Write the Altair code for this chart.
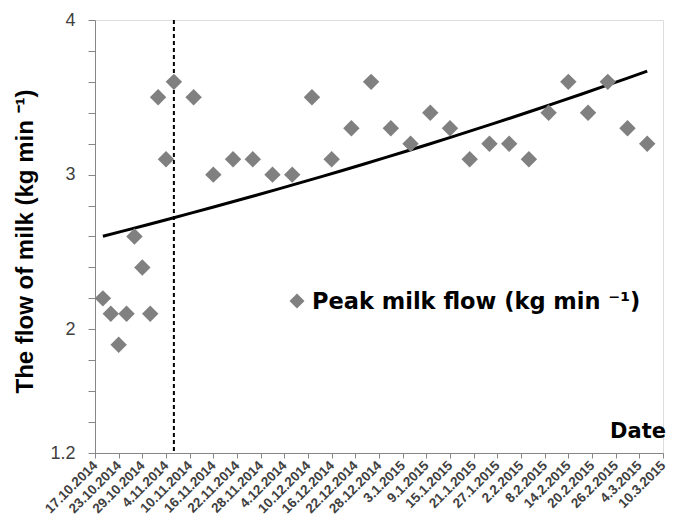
import json
import datetime as dt
import pandas as pd
import altair as alt

# ---- data ----
x_tick_labels = ["17.10.2014", "23.10.2014", "29.10.2014", "4.11.2014", "10.11.2014",
                 "16.11.2014", "22.11.2014", "28.11.2014", "4.12.2014", "10.12.2014",
                 "16.12.2014", "22.12.2014", "28.12.2014", "3.1.2015", "9.1.2015",
                 "15.1.2015", "21.1.2015", "27.1.2015", "2.2.2015", "8.2.2015",
                 "14.2.2015", "20.2.2015", "26.2.2015", "4.3.2015", "10.3.2015"]

dates = ["19.10.2014", "21.10.2014", "23.10.2014", "25.10.2014", "27.10.2014",
         "29.10.2014", "31.10.2014", "2.11.2014", "4.11.2014", "6.11.2014",
         "11.11.2014", "16.11.2014", "21.11.2014", "26.11.2014", "1.12.2014",
         "6.12.2014", "11.12.2014", "16.12.2014", "21.12.2014", "26.12.2014",
         "31.12.2014", "5.1.2015", "10.1.2015", "15.1.2015", "20.1.2015",
         "25.1.2015", "30.1.2015", "4.2.2015", "9.2.2015", "14.2.2015",
         "19.2.2015", "24.2.2015", "1.3.2015", "6.3.2015"]

peak_flow = [2.2, 2.1, 1.9, 2.1, 2.6, 2.4, 2.1, 3.5, 3.1, 3.6,
             3.5, 3.0, 3.1, 3.1, 3.0, 3.0, 3.5, 3.1, 3.3, 3.6,
             3.3, 3.2, 3.4, 3.3, 3.1, 3.2, 3.2, 3.1, 3.4, 3.6,
             3.4, 3.6, 3.3, 3.2]

y_tick_labels = [1.2, 2, 3, 4]
y_minor_step = 0.2
divider_date = "6.11.2014"
legend_text = "Peak milk flow (kg min \u207b\u00b9)"
y_title = "The flow of milk (kg min \u207b\u00b9)"
x_title = "Date"


def parse(s):
    d, m, y = map(int, s.split("."))
    return dt.date(y, m, d)


origin = parse(x_tick_labels[0])
days = [(parse(s) - origin).days for s in dates]
tick_days = [(parse(s) - origin).days for s in x_tick_labels]
divider_day = (parse(divider_date) - origin).days

df = pd.DataFrame({"day": days, "flow": peak_flow, "date": dates})

n_minor = int(round((y_tick_labels[-1] - y_tick_labels[0]) / y_minor_step))
y_ticks = [round(y_tick_labels[0] + y_minor_step * i, 1) for i in range(n_minor + 1)]

FONT = "Liberation Sans"
WIDE = "DejaVu Sans"
GRAY = "#808080"
AXIS = "#868686"

x_scale = alt.Scale(domain=[0, tick_days[-1]], nice=False, zero=False)
y_scale = alt.Scale(domain=[y_tick_labels[0], y_tick_labels[-1]], nice=False, zero=False)

x_label_expr = "%s[indexof(%s, datum.value)]" % (json.dumps(x_tick_labels), json.dumps(tick_days))
y_label_expr = "indexof(%s, datum.value) >= 0 ? format(datum.value, '~g') : ''" % json.dumps(y_tick_labels)

x_axis = alt.Axis(values=tick_days, labelExpr=x_label_expr, labelAngle=-45,
                  labelAlign="right", labelBaseline="middle",
                  labelFontSize=13.5, labelFontWeight="bold", labelColor="#404040",
                  labelPadding=5, tickSize=5, tickColor=AXIS, domainColor=AXIS,
                  grid=False, title=None, labelOverlap=False)

y_axis = alt.Axis(values=y_ticks, labelExpr=y_label_expr, labelFontSize=18,
                  labelColor="#404040", labelPadding=13, tickSize=7,
                  tickColor=AXIS, domainColor=AXIS, grid=False,
                  title=y_title, titleFontSize=24, titleFontWeight="bold",
                  titleColor="black", titleAngle=-90, titleX=-70, titleY=221,
                  titleAlign="center", titleBaseline="middle", labelOverlap=False)

X = alt.X("day:Q", scale=x_scale, axis=x_axis)
Y = alt.Y("flow:Q", scale=y_scale, axis=y_axis)

points = alt.Chart(df).mark_point(shape="diamond", filled=True, size=270,
                                  color=GRAY, opacity=1).encode(x=X, y=Y)

# exponential trendline: straight-line fit of log(flow), drawn back on the linear scale
trend = (
    alt.Chart(df)
    .transform_calculate(logflow="log(datum.flow)")
    .transform_regression("day", "logflow", method="poly", order=1)
    .transform_calculate(flow="exp(datum.logflow)")
    .mark_line(color="black", strokeWidth=3)
    .encode(x=X, y=Y)
)

divider = alt.Chart(pd.DataFrame({"day": [divider_day]})).mark_rule(
    color="black", strokeWidth=2, strokeDash=[4, 3]).encode(x=X)

legend_mark = alt.Chart(pd.DataFrame({"t": [legend_text]})).mark_point(
    shape="diamond", filled=True, size=225, color=GRAY, opacity=1).encode(
    x=alt.value(202), y=alt.value(281))

legend_label = alt.Chart(pd.DataFrame({"t": [legend_text]})).mark_text(
    align="left", baseline="middle", fontSize=22.5, fontWeight="bold",
    color="black", font=WIDE).encode(
    x=alt.value(217), y=alt.value(282), text="t:N")

date_label = alt.Chart(pd.DataFrame({"t": [x_title]})).mark_text(
    align="right", baseline="middle", fontSize=21, fontWeight="bold",
    color="black", font=WIDE).encode(
    x=alt.value(571), y=alt.value(412), text="t:N")

chart = alt.layer(divider, trend, points, legend_mark, legend_label, date_label).properties(
    width=568, height=433,
    autosize=alt.AutoSizeParams(type="none"),
    padding={"left": 87, "top": 12, "right": 4, "bottom": 66},
).configure_view(strokeWidth=0).configure_axis(labelOverlap=False).configure(font=FONT)

chart.save("out.html", embed_options={"renderer": "svg", "actions": False})
